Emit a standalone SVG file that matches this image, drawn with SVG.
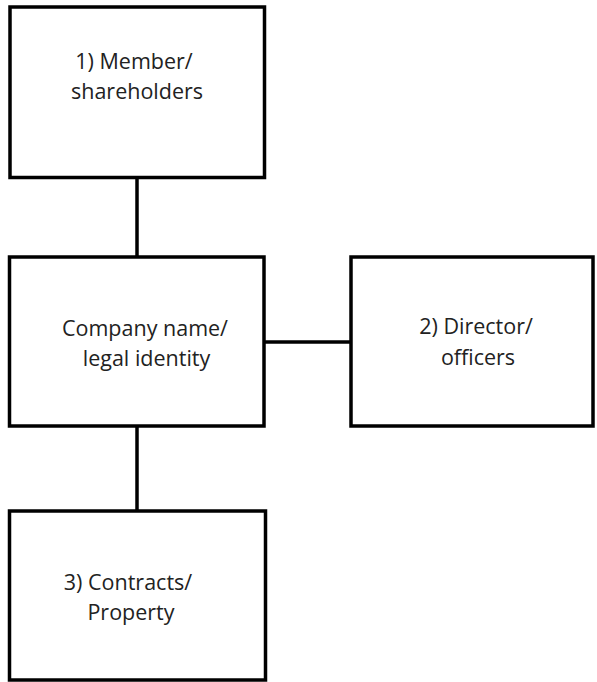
<svg xmlns="http://www.w3.org/2000/svg" width="597" height="682" viewBox="0 0 597 682">
<style>
.box{fill:#fff;stroke:#000;stroke-width:3.5}
.conn{stroke:#000;stroke-width:3.5;fill:none}
text{font-family:"Open Sans","Liberation Sans",sans-serif;font-size:21.5px;fill:#222;text-anchor:middle}
</style>
<rect width="597" height="682" fill="#fff"/>
<g id="connectors">
<line class="conn" x1="137" y1="178" x2="137" y2="258"/>
<line class="conn" x1="264" y1="342" x2="351" y2="342"/>
<line class="conn" x1="137" y1="426" x2="137" y2="511"/>
</g>
<g id="members">
<rect class="box" x="10" y="7" width="254.5" height="170.5"/>
<text x="134" y="69">1) Member/</text>
<text x="137" y="99">shareholders</text>
</g>
<g id="company">
<rect class="box" x="9.5" y="257" width="254.5" height="169"/>
<text x="145" y="336">Company name/</text>
<text x="146.5" y="366">legal identity</text>
</g>
<g id="directors">
<rect class="box" x="351" y="257" width="242" height="169"/>
<text x="476" y="334">2) Director/</text>
<text x="478" y="365">officers</text>
</g>
<g id="contracts">
<rect class="box" x="9.5" y="511" width="256" height="169"/>
<text x="128" y="590">3) Contracts/</text>
<text x="131" y="620">Property</text>
</g>
</svg>
